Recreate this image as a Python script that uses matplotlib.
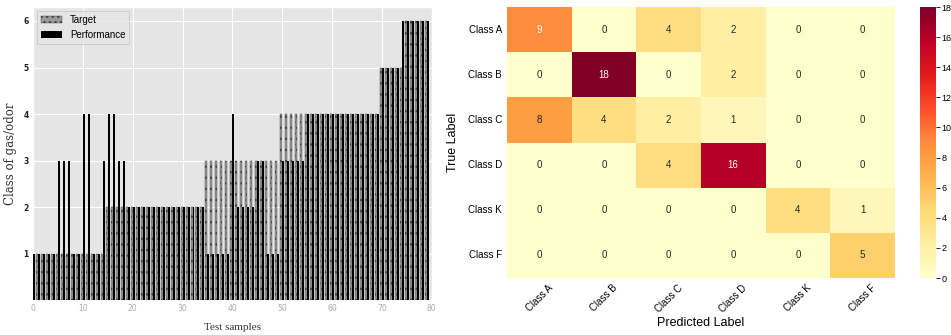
import matplotlib
matplotlib.use("Agg")
import matplotlib.pyplot as plt
import numpy as np
import seaborn as sns

# class index per test sample (1=A, 2=B, 3=C, 4=D, 5=K, 6=F)
target = [1, 1, 1, 1, 1, 1, 1, 1, 1, 1, 1, 1, 1, 1, 1,
          2, 2, 2, 2, 2, 2, 2, 2, 2, 2, 2, 2, 2, 2, 2, 2, 2, 2, 2, 2,
          3, 3, 3, 3, 3, 3, 3, 3, 3, 3, 3, 3, 3, 3, 3,
          4, 4, 4, 4, 4, 4, 4, 4, 4, 4, 4, 4, 4, 4, 4, 4, 4, 4, 4, 4,
          5, 5, 5, 5, 5,
          6, 6, 6, 6, 6]
performance = [1, 1, 1, 1, 1, 3, 3, 3, 1, 1, 4, 4, 1, 1, 3,
               4, 4, 3, 3, 2, 2, 2, 2, 2, 2, 2, 2, 2, 2, 2, 2, 2, 2, 2, 2,
               1, 1, 1, 1, 1, 4, 2, 2, 2, 2, 3, 3, 1, 1, 1,
               3, 3, 3, 3, 3, 4, 4, 4, 4, 4, 4, 4, 4, 4, 4, 4, 4, 4, 4, 4,
               5, 5, 5, 5, 6,
               6, 6, 6, 6, 6]

class_names = ["Class A", "Class B", "Class C", "Class D", "Class K", "Class F"]
conf_mat = np.array([
    [9, 0, 4, 2, 0, 0],
    [0, 18, 0, 2, 0, 0],
    [8, 4, 2, 1, 0, 0],
    [0, 0, 4, 16, 0, 0],
    [0, 0, 0, 0, 4, 1],
    [0, 0, 0, 0, 0, 5],
])

fig = plt.figure(figsize=(9.51, 3.35), dpi=100)

# ---- 左图: 目标 vs 预测 ----
with plt.style.context("ggplot"):
    ax1 = fig.add_axes([0.0347, 0.104, 0.4193, 0.875])
    x = np.arange(len(target))
    ax1.bar(x - 0.2, target, width=0.4, color="#9a9a9a", edgecolor="#444444",
            linewidth=0.3, hatch="...", label="Target", zorder=3)
    ax1.bar(x + 0.2, performance, width=0.4, color="black", linewidth=0,
            label="Performance", zorder=3)
    ax1.set_xlim(0, 80)
    ax1.set_ylim(0, 6.3)
    ax1.set_yticks([1, 2, 3, 4, 5, 6])
    ax1.set_xticks(np.arange(0, 81, 10))
    ax1.tick_params(axis="x", labelsize=5.5, labelcolor="#aaaaaa", length=0, pad=3)
    ax1.tick_params(axis="y", labelsize=5.5, labelcolor="#222222", length=0, pad=3)
    for lab in ax1.get_yticklabels():
        lab.set_fontweight("bold")
    ax1.set_xlabel("Test samples", family="Liberation Serif", fontsize=8,
                   color="#333333", labelpad=7)
    ax1.set_ylabel("Class of gas/odor", family="DejaVu Serif", fontsize=8.5,
                   color="#333333", labelpad=5)
    leg = ax1.legend(loc="upper left", prop={"family": "Liberation Sans", "size": 7},
                     frameon=True, fancybox=False, borderpad=0.4, handlelength=2.2,
                     labelspacing=0.5, borderaxespad=0.4)
    leg.get_frame().set_facecolor("#e5e5e5")
    leg.get_frame().set_edgecolor("#bbbbbb")

# ---- 右图: 混淆矩阵 ----
ax2 = fig.add_axes([0.533, 0.170, 0.408, 0.809])
cax = fig.add_axes([0.9675, 0.170, 0.017, 0.809])
sns.heatmap(conf_mat, annot=True, fmt="d", cmap="YlOrRd", vmin=0, vmax=18,
            xticklabels=class_names, yticklabels=class_names, ax=ax2, cbar_ax=cax,
            annot_kws={"fontsize": 7, "family": "Liberation Sans"})
ax2.set_xticklabels(class_names, rotation=45, ha="center", fontsize=7,
                    family="Liberation Sans")
ax2.set_yticklabels(class_names, rotation=0, fontsize=7, family="Liberation Sans")
ax2.tick_params(length=0)
ax2.set_xlabel("Predicted Label", fontsize=9, family="Liberation Sans", labelpad=2)
ax2.set_ylabel("True Label", fontsize=9, family="Liberation Sans", labelpad=6)
cax.set_yticks(np.arange(0, 19, 2))
cax.tick_params(labelsize=6.5, length=3, width=0.6, pad=1)
for lab in cax.get_yticklabels():
    lab.set_family("Liberation Sans")

fig.savefig("out.png", dpi=100)
